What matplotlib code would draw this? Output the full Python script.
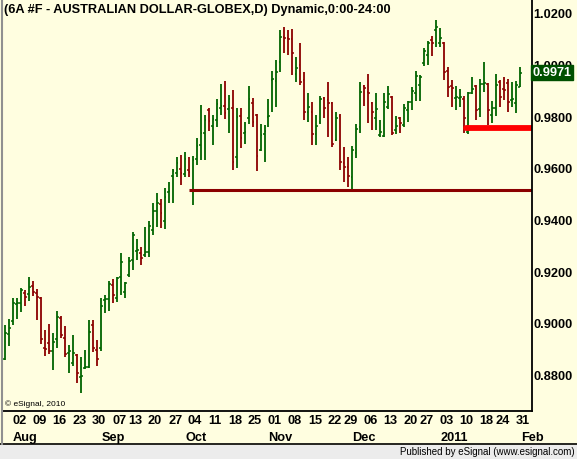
import matplotlib
matplotlib.use("Agg")
import matplotlib.pyplot as plt
from matplotlib.patches import Rectangle
from matplotlib.lines import Line2D
import numpy as np

plt.rcParams['font.family'] = ['Liberation Sans', 'DejaVu Sans']

# daily bars, 27 Jul 2010 .. 28 Jan 2011
opens = [0.8864, 0.8960, 0.9011, 0.9076, 0.9080, 0.9119, 0.9115, 0.9146, 0.9119, 0.9100,
         0.8906, 0.8926, 0.8895, 0.8941, 0.9022, 0.8945, 0.8887, 0.8848, 0.8879, 0.8794,
         0.8829, 0.8833, 0.8995, 0.8899, 0.8905, 0.9092, 0.9096, 0.9150, 0.9100, 0.9181,
         0.9123, 0.9189, 0.9247, 0.9282, 0.9274, 0.9266, 0.9278, 0.9363, 0.9436, 0.9464,
         0.9398, 0.9510, 0.9572, 0.9584, 0.9599, 0.9580, 0.9595, 0.9518, 0.9638, 0.9692,
         0.9738, 0.9827, 0.9765, 0.9789, 0.9835, 0.9843, 0.9831, 0.9835, 0.9645, 0.9804,
         0.9738, 0.9796, 0.9854, 0.9808, 0.9673, 0.9734, 0.9800, 0.9943, 0.9940, 1.0013,
         1.0110, 1.0106, 1.0102, 0.9967, 1.0001, 0.9943, 0.9820, 0.9820, 0.9734, 0.9781,
         0.9874, 0.9866, 0.9854, 0.9711, 0.9804, 0.9622, 0.9607, 0.9568, 0.9661, 0.9762,
         0.9920, 0.9897, 0.9854, 0.9796, 0.9731, 0.9727, 0.9839, 0.9878, 0.9750, 0.9796,
         0.9769, 0.9827, 0.9858, 0.9893, 0.9924, 1.0009, 1.0040, 1.0098, 1.0137, 1.0087,
         1.0087, 0.9978, 0.9920, 0.9874, 0.9874, 0.9870, 0.9742, 0.9893, 0.9920, 0.9831,
         0.9928, 0.9928, 0.9808, 0.9835, 0.9936, 0.9909, 0.9932, 0.9866, 0.9854, 0.9916]
highs = [0.8995, 0.9018, 0.9100, 0.9100, 0.9138, 0.9130, 0.9181, 0.9166, 0.9135, 0.9104,
         0.8976, 0.8999, 0.8964, 0.9049, 0.9030, 0.8991, 0.8918, 0.8957, 0.8883, 0.8871,
         0.8899, 0.9015, 0.9015, 0.8937, 0.9100, 0.9111, 0.9166, 0.9173, 0.9181, 0.9274,
         0.9162, 0.9258, 0.9355, 0.9328, 0.9297, 0.9374, 0.9398, 0.9467, 0.9506, 0.9483,
         0.9525, 0.9549, 0.9599, 0.9645, 0.9653, 0.9665, 0.9645, 0.9649, 0.9719, 0.9847,
         0.9808, 0.9835, 0.9808, 0.9870, 0.9928, 0.9940, 0.9885, 0.9905, 0.9835, 0.9835,
         0.9781, 0.9920, 0.9874, 0.9812, 0.9773, 0.9769, 0.9870, 0.9978, 1.0021, 1.0137,
         1.0149, 1.0137, 1.0141, 1.0032, 1.0087, 0.9974, 0.9893, 0.9858, 0.9808, 0.9882,
         0.9878, 0.9936, 0.9858, 0.9820, 0.9812, 0.9684, 0.9645, 0.9688, 0.9773, 0.9936,
         0.9924, 0.9967, 0.9858, 0.9893, 0.9789, 0.9893, 0.9920, 0.9882, 0.9804, 0.9800,
         0.9850, 0.9862, 0.9916, 0.9978, 0.9963, 1.0067, 1.0094, 1.0114, 1.0176, 1.0145,
         1.0090, 0.9994, 0.9943, 0.9920, 0.9909, 0.9882, 0.9897, 0.9955, 0.9924, 0.9947,
         1.0013, 0.9932, 0.9862, 0.9967, 0.9943, 0.9955, 0.9947, 0.9936, 0.9940, 0.9994]
lows = [0.8860, 0.8914, 0.8995, 0.9018, 0.9046, 0.9069, 0.9088, 0.9108, 0.9015, 0.8922,
        0.8875, 0.8883, 0.8821, 0.8906, 0.8945, 0.8871, 0.8810, 0.8837, 0.8771, 0.8732,
        0.8825, 0.8829, 0.8891, 0.8837, 0.8895, 0.9042, 0.9049, 0.9080, 0.9084, 0.9111,
        0.9100, 0.9181, 0.9208, 0.9247, 0.9227, 0.9258, 0.9258, 0.9344, 0.9374, 0.9371,
        0.9367, 0.9467, 0.9467, 0.9568, 0.9537, 0.9568, 0.9568, 0.9460, 0.9614, 0.9634,
        0.9634, 0.9746, 0.9692, 0.9762, 0.9808, 0.9792, 0.9738, 0.9595, 0.9603, 0.9680,
        0.9696, 0.9773, 0.9762, 0.9591, 0.9669, 0.9626, 0.9762, 0.9820, 0.9839, 0.9974,
        1.0048, 1.0040, 0.9963, 0.9936, 0.9924, 0.9789, 0.9781, 0.9692, 0.9692, 0.9773,
        0.9796, 0.9723, 0.9684, 0.9707, 0.9595, 0.9549, 0.9529, 0.9522, 0.9642, 0.9738,
        0.9843, 0.9777, 0.9750, 0.9750, 0.9723, 0.9723, 0.9831, 0.9731, 0.9734, 0.9738,
        0.9762, 0.9781, 0.9827, 0.9862, 0.9862, 0.9998, 1.0001, 1.0036, 1.0071, 1.0071,
        0.9943, 0.9878, 0.9839, 0.9827, 0.9839, 0.9738, 0.9734, 0.9889, 0.9789, 0.9800,
        0.9897, 0.9769, 0.9777, 0.9804, 0.9839, 0.9866, 0.9820, 0.9839, 0.9816, 0.9916]
closes = [0.8964, 0.8984, 0.9080, 0.9080, 0.9130, 0.9104, 0.9142, 0.9123, 0.9104, 0.8941,
          0.8902, 0.8895, 0.8930, 0.9026, 0.8957, 0.8883, 0.8895, 0.8887, 0.8810, 0.8798,
          0.8833, 0.8968, 0.8906, 0.8864, 0.9069, 0.9096, 0.9154, 0.9111, 0.9177, 0.9239,
          0.9158, 0.9243, 0.9344, 0.9286, 0.9255, 0.9278, 0.9378, 0.9436, 0.9467, 0.9429,
          0.9491, 0.9514, 0.9591, 0.9622, 0.9584, 0.9638, 0.9587, 0.9634, 0.9688, 0.9738,
          0.9789, 0.9785, 0.9792, 0.9850, 0.9843, 0.9816, 0.9870, 0.9626, 0.9800, 0.9719,
          0.9742, 0.9870, 0.9781, 0.9649, 0.9731, 0.9746, 0.9804, 0.9947, 0.9974, 1.0110,
          1.0106, 1.0102, 1.0048, 0.9990, 0.9936, 0.9820, 0.9839, 0.9734, 0.9765, 0.9870,
          0.9835, 0.9854, 0.9696, 0.9796, 0.9626, 0.9607, 0.9572, 0.9673, 0.9754, 0.9897,
          0.9912, 0.9893, 0.9820, 0.9831, 0.9742, 0.9858, 0.9889, 0.9738, 0.9765, 0.9777,
          0.9835, 0.9858, 0.9901, 0.9959, 0.9955, 1.0056, 1.0087, 1.0087, 1.0149, 1.0106,
          0.9974, 0.9916, 0.9912, 0.9878, 0.9878, 0.9796, 0.9893, 0.9909, 0.9827, 0.9928,
          0.9932, 0.9827, 0.9835, 0.9924, 0.9878, 0.9905, 0.9858, 0.9870, 0.9924, 0.9971]

day_labels = ['02', '09', '16', '23', '30', '07', '13', '20', '27', '04', '11', '18', '25',
              '01', '08', '15', '22', '29', '06', '13', '20', '27', '03', '10', '18', '24', '31']
day_bars = [4, 9, 14, 19, 24, 29, 33, 38, 43, 48, 53, 58, 63, 68, 73, 78, 83, 87, 92, 97,
            102, 106, 111, 116, 121, 125, 130]
month_labels = ['Aug', 'Sep', 'Oct', 'Nov', 'Dec', '2011', 'Feb']
month_bars = [5, 27.25, 47.75, 69, 90, 112.5, 132]

price_ticks = [0.88, 0.90, 0.92, 0.94, 0.96, 0.98, 1.00, 1.02]
support_level = 0.9518
support_start = 46.2
stop_level = 0.9756
stop_start = 115.5
last_price = 0.9971

bg = '#fffee0'
up_col = '#006400'
dn_col = '#8b0000'

W, H = 577, 459
fig = plt.figure(figsize=(W / 100, H / 100), dpi=100, facecolor=bg)
ax = fig.add_axes([3 / W, 48 / H, 529 / W, 411 / H], facecolor=bg)

o = np.array(opens); h = np.array(highs); l = np.array(lows); c = np.array(closes)
x = np.arange(len(o))
cols = np.where(c >= o, up_col, dn_col)
ax.vlines(x, l, h, colors=cols, linewidth=1.3)
ax.hlines(o, x - 0.45, x, colors=cols, linewidth=1.1)
ax.hlines(c, x, x + 0.45, colors=cols, linewidth=1.1)

ax.plot([support_start, 200], [support_level, support_level], color=dn_col, lw=2.2,
        solid_capstyle='butt')
ax.plot([stop_start, 200], [stop_level, stop_level], color='#ff0000', lw=4.2,
        solid_capstyle='round')

ax.set_xlim(-0.5, 131.75)
ax.set_ylim(0.8663, 1.0253)

for s in ['left', 'top']:
    ax.spines[s].set_visible(False)
ax.spines['right'].set_linewidth(1.3)
ax.spines['bottom'].set_linewidth(1.3)

ax.yaxis.tick_right()
ax.set_yticks(price_ticks)
ax.set_yticklabels(['%.4f' % v for v in price_ticks], fontsize=9.2, fontweight='bold')
ax.tick_params(axis='y', length=0, pad=1)

ax.set_xticks(np.array(day_bars) - 0.4)
ax.set_xticklabels(day_labels, fontsize=9.2, fontweight='bold')
ax.set_xticks(month_bars, minor=True)
ax.set_xticklabels(month_labels, minor=True, fontsize=9.2, fontweight='bold')
ax.tick_params(axis='x', which='major', length=0, pad=3)
ax.tick_params(axis='x', which='minor', length=0, pad=15)

# last price marker (drawn over the 1.0000 label as in the platform)
ax.text(1.001, last_price, '%.4f' % last_price, transform=ax.get_yaxis_transform(),
        ha='left', va='center', fontsize=9.2, fontweight='bold', color='white',
        bbox=dict(boxstyle='square,pad=0.12', fc='#005000', ec='#005000'), clip_on=False,
        zorder=10)

fig.text(4 / W, 1 - 10 / H, '(6A #F - AUSTRALIAN DOLLAR-GLOBEX,D) Dynamic,0:00-24:00',
         fontsize=9.2, fontweight='bold', va='center', ha='left')
fig.text(5 / W, 1 - 404 / H, '\u00a9 eSignal, 2010', fontsize=6, va='center', ha='left')

# frame / status bar
fig.patches.append(Rectangle((0, 0), 1, 14 / H, transform=fig.transFigure,
                             facecolor='#ececec', edgecolor='none'))
fig.lines.append(Line2D([0, 1], [15 / H, 15 / H], transform=fig.transFigure,
                        color='black', lw=1.2))
fig.lines.append(Line2D([1.5 / W, 1.5 / W], [15 / H, 1], transform=fig.transFigure,
                        color='#909090', lw=1.5))
fig.text(575 / W, 7 / H, 'Published by eSignal (www.esignal.com)', fontsize=7,
         ha='right', va='center')

fig.savefig('out.png', dpi=100, facecolor=bg)
